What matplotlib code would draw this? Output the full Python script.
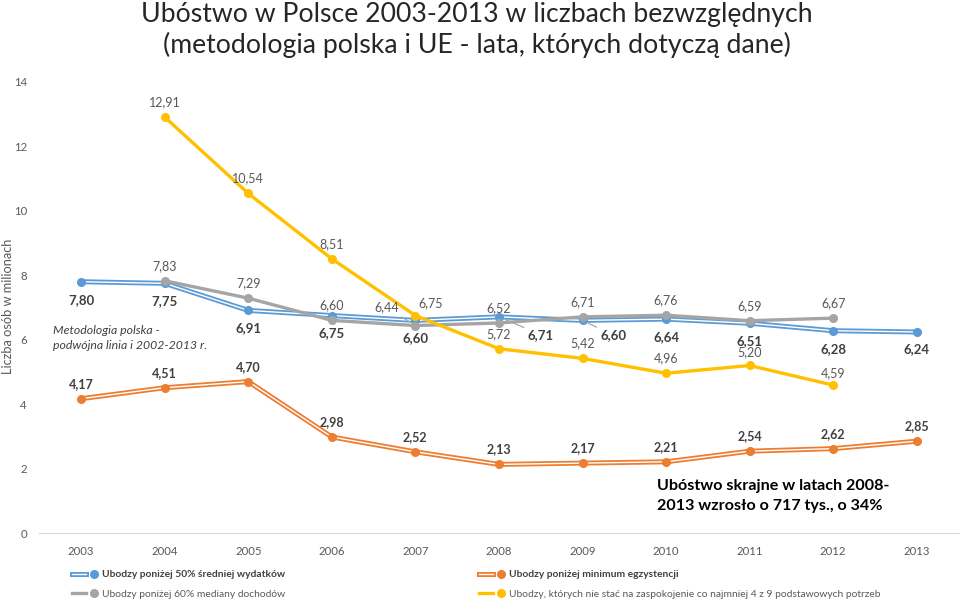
import numpy as np
import matplotlib.pyplot as plt
import matplotlib.patheffects as pe
from matplotlib.lines import Line2D
from matplotlib.legend_handler import HandlerTuple

plt.rcParams['font.family'] = ['Lato', 'DejaVu Sans']

YEARS = [str(y) for y in range(2003, 2014)]
WYDATKI_50 = [7.80, 7.75, 6.91, 6.75, 6.60, 6.71, 6.60, 6.64, 6.51, 6.28, 6.24]
MINIMUM = [4.17, 4.51, 4.70, 2.98, 2.52, 2.13, 2.17, 2.21, 2.54, 2.62, 2.85]
MEDIANA_60 = [np.nan, 7.83, 7.29, 6.60, 6.44, 6.52, 6.71, 6.76, 6.59, 6.67, np.nan]
POTRZEBY = [np.nan, 12.91, 10.54, 8.51, 6.75, 5.72, 5.42, 4.96, 5.20, 4.59, np.nan]

BLUE, ORANGE, GRAY, YELLOW = "#5B9BD5", "#ED7D31", "#A5A5A5", "#FFC000"
TXT, TXT_B = "#595959", "#404040"

# label offsets in pixels (dx, dy up); exceptions per index, third item = leader line
OFF_BLUE = {5: (42, -18, True), 6: (31, -15, True), 10: (0, -17, False)}
OFF_GRAY = {4: (-29, 18, True)}
OFF_YELLOW = {4: (15, 12, False), 9: (0, 12, False), 8: (0, 13, False)}
OFF_ORANGE = {}

fig = plt.figure(figsize=(9.6, 6.02), dpi=100)
ax = fig.add_axes([0.041, 0.1146, 0.9575, 0.7492])
x = np.arange(len(YEARS))


def double_line(vals, color, z):
    ax.plot(x, vals, color="white", lw=1.0, zorder=z, solid_capstyle="butt",
            path_effects=[pe.Stroke(linewidth=3.6, foreground=color), pe.Normal()])
    ax.plot(x, vals, ls="none", marker="o", ms=5.5, color=color, zorder=z + 0.1)


def labels(vals, off, default, bold, size, color):
    for i, v in enumerate(vals):
        if np.isnan(v):
            continue
        dx, dy, lead = off.get(i, default + (False,))
        kw = {}
        if lead:
            kw["arrowprops"] = dict(arrowstyle="-", color="#A6A6A6", lw=0.9,
                                    shrinkA=1, shrinkB=5)
        ax.annotate(f"{v:.2f}".replace(".", ","), (i, v),
                    xytext=(dx * 0.72, dy * 0.72), textcoords="offset points",
                    ha="center", va="center", fontsize=size, color=color,
                    fontweight="bold" if bold else "normal", zorder=10, **kw)


double_line(WYDATKI_50, BLUE, 3)
double_line(MINIMUM, ORANGE, 3)
ax.plot(x, MEDIANA_60, color=GRAY, lw=2.4, marker="o", ms=5.5, zorder=4)
ax.plot(x, POTRZEBY, color=YELLOW, lw=2.4, marker="o", ms=5.5, zorder=5)

labels(WYDATKI_50, OFF_BLUE, (0, -18), True, 9.5, TXT_B)
labels(MINIMUM, OFF_ORANGE, (0, 15), True, 9, TXT_B)
labels(MEDIANA_60, OFF_GRAY, (0, 15), False, 9, TXT)
labels(POTRZEBY, OFF_YELLOW, (0, 15), False, 9, TXT)

ax.set_xlim(-0.5, len(YEARS) - 0.5)
ax.set_ylim(0, 14)
ax.set_yticks(range(0, 15, 2))
ax.set_xticks(x)
ax.set_xticklabels(YEARS)
ax.tick_params(length=0, labelsize=8.2, colors=TXT)
ax.tick_params(axis="y", pad=9)
ax.tick_params(axis="x", pad=9)
for s in ["top", "right", "left"]:
    ax.spines[s].set_visible(False)
ax.spines["bottom"].set_color("#D9D9D9")
fig.text(8 / 960, 1 - 306 / 602, "Liczba osób w milionach", rotation=90,
         fontsize=9.2, color=TXT, ha="center", va="center")

fig.text(0.497, 0.997, "Ubóstwo w Polsce 2003-2013 w liczbach bezwzględnych\n"
         "(metodologia polska i UE - lata, których dotyczą dane)",
         ha="center", va="top", fontsize=19.2, color="#262626", linespacing=1.25)

fig.text(53 / 960, 1 - 338 / 602, "Metodologia polska -\npodwójna linia i 2002-2013 r.",
         fontsize=8.8, style="italic", color=TXT_B, va="center", linespacing=1.45)
fig.text(657 / 960, 1 - 496 / 602, "Ubóstwo skrajne w latach 2008-\n2013 wzrosło o 717 tys., o 34%",
         fontsize=11.6, fontweight="bold", color="#000000", va="center", linespacing=1.55)


def handle(color, double):
    if double:
        ln = Line2D([], [], color="white", lw=1.0,
                    path_effects=[pe.Stroke(linewidth=3.6, foreground=color), pe.Normal()])
    else:
        ln = Line2D([], [], color=color, lw=2.4)
    mk = Line2D([], [], ls="none", marker="o", ms=5.5, color=color)
    return (ln, mk)


def legend(entries, xpx):
    lg = fig.legend([handle(c, d) for _, c, d, _ in entries], [t for t, _, _, _ in entries],
                    handler_map={tuple: HandlerTuple(ndivide=None, pad=0)},
                    loc="upper left", bbox_to_anchor=(xpx / 960, 1 - 570 / 602),
                    frameon=False, fontsize=7.4, handlelength=2.8, handletextpad=0.1,
                    borderpad=0, borderaxespad=0, labelspacing=1.0)
    for txt, (_, _, _, b) in zip(lg.get_texts(), entries):
        txt.set_color(TXT_B if b else TXT)
        if b:
            txt.set_fontweight("bold")
    return lg


legend([("Ubodzy poniżej 50% średniej wydatków", BLUE, True, True),
        ("Ubodzy poniżej 60% mediany dochodów", GRAY, False, False)], 72)
legend([("Ubodzy poniżej minimum egzystencji", ORANGE, True, True),
        ("Ubodzy, których nie stać na zaspokojenie co najmniej 4 z 9 podstawowych potrzeb",
         YELLOW, False, False)], 479)

fig.savefig("out.png", dpi=100)
